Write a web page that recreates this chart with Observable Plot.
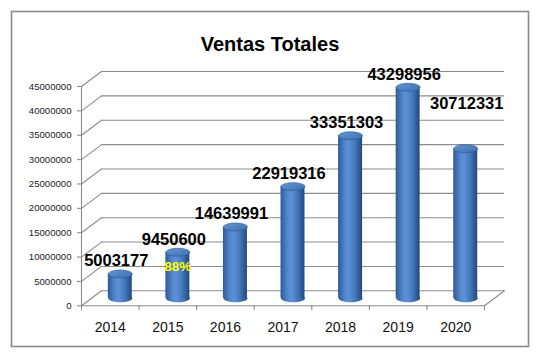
<!DOCTYPE html>
<html>
<head>
<meta charset="utf-8">
<script src="https://cdn.jsdelivr.net/npm/d3@7"></script>
<script src="https://cdn.jsdelivr.net/npm/@observablehq/plot@0.6"></script>
<style>
  html, body { margin: 0; padding: 0; background: #fff; }
  #chart svg { display: block; }
</style>
</head>
<body>
<div id="chart"></div>
<script>
// ---- data ----
const years = ["2014", "2015", "2016", "2017", "2018", "2019", "2020"];
const ventas = [5003177, 9450600, 14639991, 22919316, 33351303, 43298956, 30712331];
const yTicks = [0, 5000000, 10000000, 15000000, 20000000, 25000000, 30000000, 35000000, 40000000, 45000000];
const pctYears = ["2015"];
const pctLabels = ["88%"];
const chartTitle = "Ventas Totales";

const rows = years.map((year, i) => ({year, i, value: ventas[i]}));
const pctRows = pctYears.map((year, k) => ({i: years.indexOf(year), value: ventas[years.indexOf(year)], text: pctLabels[k]}));
const bounds = d3.range(years.length + 1);

const FONT = "Liberation Sans, Arial, sans-serif";
const GRID = "#8c8c8c";
const DX = 20, DY = -15;           // depth of the 3-D box
const ANG = Math.atan2(DX, -DY) * 180 / Math.PI;
const LEN = Math.hypot(DX, DY);

const ellipse = {
  draw(ctx, size) {
    const r = Math.sqrt(size / Math.PI), rx = r, ry = r * 0.33, k = 0.5523;
    ctx.moveTo(rx, 0);
    ctx.bezierCurveTo(rx, ry * k, rx * k, ry, 0, ry);
    ctx.bezierCurveTo(-rx * k, ry, -rx, ry * k, -rx, 0);
    ctx.bezierCurveTo(-rx, -ry * k, -rx * k, -ry, 0, -ry);
    ctx.bezierCurveTo(rx * k, -ry, rx, -ry * k, rx, 0);
    ctx.closePath();
  }
};

const cx = d => d.i + 0.5;

const chart = Plot.plot({
  width: 547,
  height: 358,
  marginLeft: 81,
  marginRight: 63,
  marginTop: 86,
  marginBottom: 52.7,
  style: {background: "#fff", fontFamily: FONT, color: "#000"},
  x: {domain: [0, years.length], axis: null},
  y: {domain: [0, 45000000], axis: null},
  marks: [
    Plot.frame({stroke: "#8a8a8a", strokeWidth: 1.6, insetLeft: -70, insetTop: -75, insetRight: -44, insetBottom: -40.7}),
    Plot.ruleY(yTicks, {y: d => d, dx: DX, dy: DY, stroke: GRID, strokeWidth: 1.1}),
    Plot.vector(yTicks, {y: d => d, frameAnchor: "left", anchor: "start", length: LEN, rotate: ANG, r: 0, stroke: GRID, strokeWidth: 1.1}),
    Plot.vector([0], {y: d => d, frameAnchor: "right", anchor: "start", length: LEN, rotate: ANG, r: 0, stroke: GRID, strokeWidth: 1.1}),
    Plot.ruleY([0], {y: d => d, stroke: GRID, strokeWidth: 1.1}),
    Plot.ruleX([0], {x: d => d, y1: 0, y2: 45000000, stroke: GRID, strokeWidth: 1.1}),
    Plot.ruleY(yTicks, {y: d => d, x1: 0, x2: 0, insetLeft: -4, stroke: GRID, strokeWidth: 1.1}),
    Plot.ruleX(bounds, {x: d => d, y1: 0, y2: 0, insetBottom: -5, stroke: GRID, strokeWidth: 1.1}),
    Plot.text(yTicks, {y: d => d, frameAnchor: "left", dx: -10, textAnchor: "end", text: d => d3.format("d")(d), fontSize: 9.6, fill: "#222"}),
    Plot.text(rows, {x: cx, y: () => 0, dy: 21.5, text: "year", fontSize: 14, fill: "#111"}),
    Plot.dot(rows, {x: cx, y: () => 0, dx: DX / 2, dy: DY / 2, r: 12, symbol: ellipse, fill: "url(#cylBody)", stroke: "none"}),
    Plot.rectY(rows, {x1: d => d.i, x2: d => d.i + 1, y: "value", dx: DX / 2, dy: DY / 2, insetLeft: 16.8, insetRight: 16.8, fill: "url(#cylBody)"}),
    Plot.dot(rows, {x: cx, y: "value", dx: DX / 2, dy: DY / 2, r: 12, symbol: ellipse, fill: "url(#cylTop)", stroke: "#2c5890", strokeWidth: 0.6}),
    Plot.text(rows.filter(d => d.year !== "2020"), {x: cx, y: "value", dx: 6, dy: -20.5, text: d => String(d.value), fontSize: 16.5, fontWeight: "bold", fill: "#000"}),
    Plot.text(rows.filter(d => d.year === "2020"), {x: cx, y: "value", dx: 11, dy: -52.5, text: d => String(d.value), fontSize: 16.5, fontWeight: "bold", fill: "#000"}),
    Plot.text(pctRows, {x: cx, y: "value", dx: DX / 2, dy: 6.5, text: "text", fontSize: 13.5, fontWeight: "bold", fill: "#ffff00"}),
    Plot.text([chartTitle], {frameAnchor: "top", dx: -13, dy: -50, text: d => d, fontSize: 20, fontWeight: "bold", fill: "#000"})
  ]
});

const svgEl = chart.tagName.toLowerCase() === "svg" ? chart : chart.querySelector("svg");
const defs = d3.select(svgEl).insert("defs", ":first-child");
const bodyGrad = defs.append("linearGradient").attr("id", "cylBody").attr("x1", 0).attr("x2", 1).attr("y1", 0).attr("y2", 0);
[[0, "#2d5a96"], [0.3, "#5589cf"], [0.45, "#5c91d6"], [0.7, "#4578bb"], [1, "#22487d"]].forEach(([o, c]) =>
  bodyGrad.append("stop").attr("offset", o).attr("stop-color", c));
const topGrad = defs.append("linearGradient").attr("id", "cylTop").attr("x1", 0).attr("x2", 1).attr("y1", 0).attr("y2", 1);
[[0, "#6396d6"], [1, "#3d6fae"]].forEach(([o, c]) =>
  topGrad.append("stop").attr("offset", o).attr("stop-color", c));

document.getElementById("chart").append(chart);
</script>
</body>
</html>
